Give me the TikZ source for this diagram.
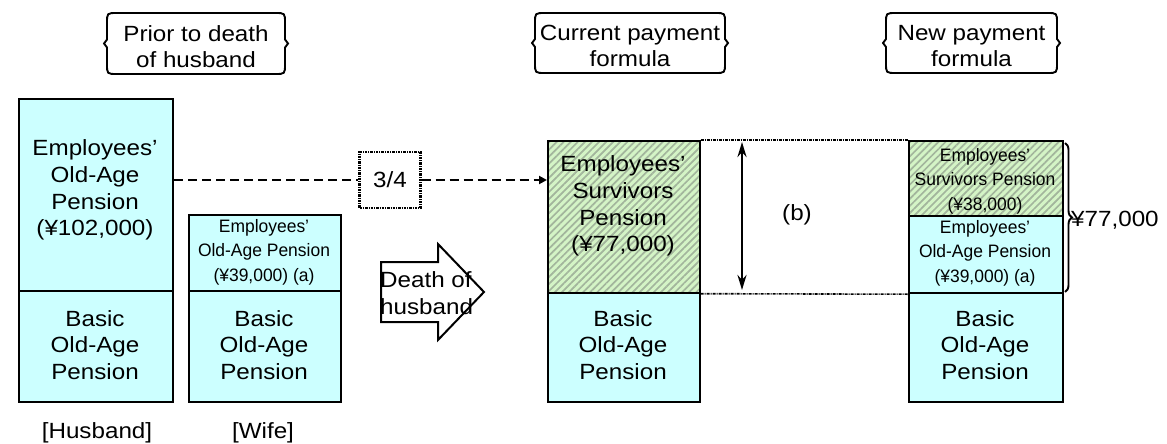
\documentclass[tikz,border=0pt]{standalone}
\usepackage{fontspec}
\setmainfont{Liberation Sans}
\newfontfamily\bigfont[FakeStretch=1.1]{Liberation Sans}
\newfontfamily\narrowfont[FakeStretch=0.97]{Liberation Sans}
\usetikzlibrary{patterns.meta,decorations.pathreplacing,arrows.meta,calc}

\definecolor{cellcyan}{HTML}{CCFFFF}
\definecolor{hatchbg}{HTML}{D4F4C6}
\definecolor{hatchln}{HTML}{A2B59C}

\tikzset{
  big/.style={font=\bigfont\fontsize{22}{26.7}\selectfont, align=center, inner sep=0pt},
  small/.style={font=\narrowfont\fontsize{18}{24.5}\selectfont, align=center, inner sep=0pt},
  cell/.style={draw, line width=2.2pt, fill=cellcyan, anchor=north west, inner sep=0pt},
  hatched/.style={draw, line width=2.2pt, anchor=north west, inner sep=0pt,
    preaction={fill=hatchbg},
    pattern={Lines[angle=45, distance=5pt, line width=1.7pt]}, pattern color=hatchln},
  hdr/.style={draw, line width=1.9pt},
  linkdash/.style={line width=2.8pt, dash pattern=on 9pt off 5pt},
  linkdot/.style={line width=1.6pt, dash pattern=on 3pt off 1pt on 1pt off 1pt},
}

% header callout: rounded frame with brace-like sides
\newcommand\headbox[6]{%
  \draw[hdr] ({#2+10},#3) -- ({#4-10},#3) .. controls (#4,#3) .. (#4,{#3+10})
    -- (#4,{(#3+#5)/2-4}) -- ({#4+3},{(#3+#5)/2}) -- (#4,{(#3+#5)/2+4})
    -- (#4,{#5-10}) .. controls (#4,#5) .. ({#4-10},#5)
    -- ({#2+10},#5) .. controls (#2,#5) .. (#2,{#5-10})
    -- (#2,{(#3+#5)/2+4}) -- ({#2-3},{(#3+#5)/2}) -- (#2,{(#3+#5)/2-4})
    -- (#2,{#3+10}) .. controls (#2,#3) .. ({#2+10},#3) -- cycle;
  \node[big] (#1) at ({(#2+#4)/2},{(#3+#5)/2+3}) {#6};%
}

\begin{document}
\begin{tikzpicture}[x=1pt, y=-1pt]
\useasboundingbox (0,0) rectangle (1167,444);

% headers
\headbox{hPrior}{107}{13}{285}{74}{Prior to death\\of husband}
\headbox{hCur}{535}{13}{725}{73}{Current payment\\formula}
\headbox{hNew}{886}{13}{1057}{73}{New payment\\formula}

% husband
\node[cell, minimum width=154pt, minimum height=192pt] (hEmp) at (18,98) {};
\node[cell, minimum width=154pt, minimum height=111pt] (hBas) at (18,290) {};
\node[big] (thEmp) at (95,190) {Employees’\\Old-Age\\Pension\\(¥102,000)};
\node[big] (thBas) at (95,345) {Basic\\Old-Age\\Pension};
\node[big] (lHus) at (97,433) {[Husband]};

% wife
\node[cell, minimum width=152pt, minimum height=76pt] (wEmp) at (188,214) {};
\node[cell, minimum width=152pt, minimum height=111pt] (wBas) at (188,290) {};
\node[small] (twEmp) at (264,252) {Employees’\\Old-Age Pension\\(¥39,000) (a)};
\node[big] (twBas) at (264,345) {Basic\\Old-Age\\Pension};
\node[big] (lWife) at (263,433) {[Wife]};

% current formula
\node[hatched, minimum width=152pt, minimum height=152pt] (cSur) at (547,140) {};
\node[cell, minimum width=152pt, minimum height=109pt] (cBas) at (547,292) {};
\node[big] (tcSur) at (623,206) {Employees’\\Survivors\\Pension\\(¥77,000)};
\node[big] (tcBas) at (623,345) {Basic\\Old-Age\\Pension};

% new formula
\node[hatched, minimum width=154pt, minimum height=75pt] (nSur) at (908,140) {};
\node[cell, minimum width=154pt, minimum height=77pt] (nEmp) at (908,215) {};
\node[cell, minimum width=154pt, minimum height=109pt] (nBas) at (908,292) {};
\node[small] (tnSur) at (985,181) {Employees’\\Survivors Pension\\(¥38,000)};
\node[small] (tnEmp) at (985,253) {Employees’\\Old-Age Pension\\(¥39,000) (a)};
\node[big] (tnBas) at (985,345) {Basic\\Old-Age\\Pension};

% 3/4 transfer
\node[big, draw, line width=2.3pt, dash pattern=on 2.5pt off 1pt on 1pt off 1pt,
      minimum width=61pt, minimum height=56pt] (q) at (390,180) {3/4};
\draw[linkdash] (hEmp.east |- q.west) -- (q.west);
\draw[linkdash, -{Triangle[length=8pt, width=8pt]}] (q.east) -- (q.east -| cSur.west);

% death of husband block arrow
\draw[line width=2pt, fill=white] (381,262) -- (438,262) -- (438,244) -- (484,292)
  -- (438,340) -- (438,322) -- (381,322) -- cycle;
\node[big, align=left, anchor=west] (death) at (380,293) {Death of\\husband};

% span (b)
\draw[linkdot] (cSur.north east) -- (nSur.north west);
\draw[linkdot] (cSur.south east) -- (nEmp.south west);
\coordinate (bTop) at (742,142);
\coordinate (bBot) at (742,290);
\draw[line width=2.6pt, {Stealth[length=15pt, width=9pt]}-{Stealth[length=15pt, width=9pt]}] (bTop) -- (bBot);
\node[big] (bLab) at (797,215) {(b)};

% total brace
\coordinate (brTop) at (1065,143);
\coordinate (brBot) at (1065,292);
\draw[line width=1.9pt, decorate, decoration={brace, amplitude=7pt}] (brTop) -- (brBot);
\node[big, anchor=west] (tot) at (1071,220) {¥77,000};
\end{tikzpicture}
\end{document}
